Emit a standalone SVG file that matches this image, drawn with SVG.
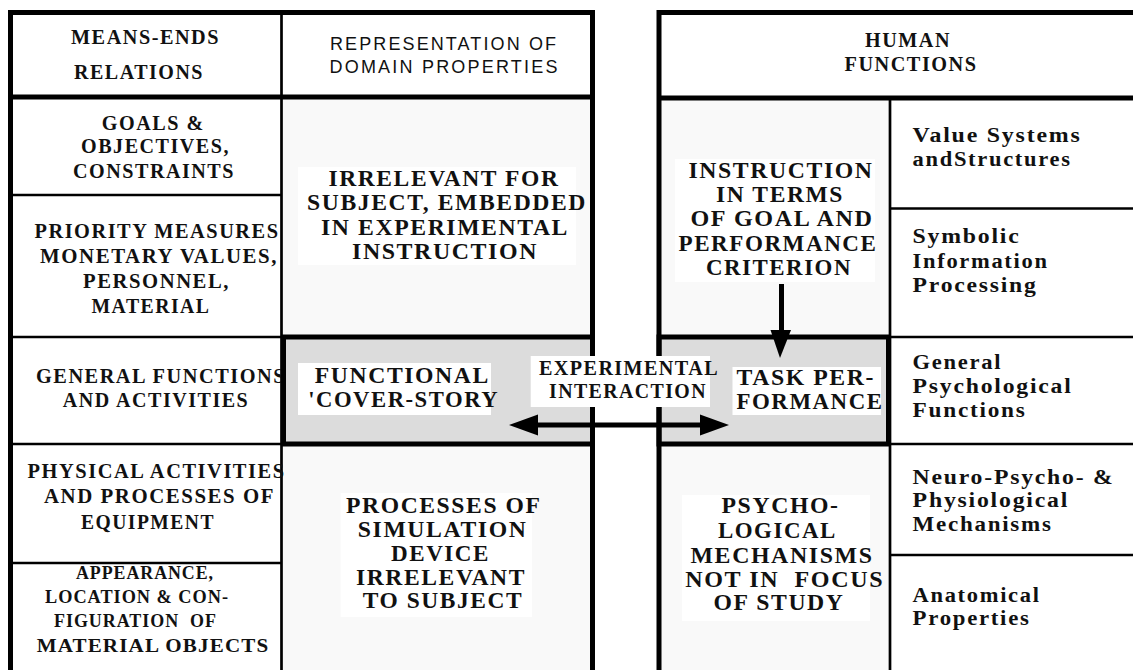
<svg xmlns="http://www.w3.org/2000/svg" width="1133" height="670" viewBox="0 0 1133 670">
<style>
.b{font-family:"Liberation Serif","Times New Roman",serif;font-weight:bold;fill:#111;letter-spacing:1.5px;}
.s18{font-size:18.5px;letter-spacing:1px;}
.s19{font-size:20px;}
.s20{font-size:21px;}
.s22{font-size:22.5px;}
.sans{font-family:"Liberation Sans",Arial,sans-serif;font-size:18px;fill:#111;}
.m{text-anchor:middle;}
.thick{stroke:#000;stroke-width:5;fill:none;}
.thin{stroke:#000;stroke-width:2.7;fill:none;}
.band{fill:#dcdcdc;stroke:#000;stroke-width:5;}
.light{fill:#f9f9f9;}
.lbl{fill:#fff;}
.arr{stroke:#000;stroke-width:5;}
</style>
<rect width="1133" height="670" fill="#fff"/>

<g id="left-frame">
  <rect class="light" x="283" y="99" width="307" height="571"/>
  <line class="thin" x1="281.5" y1="15" x2="281.5" y2="670"/>
  <line class="thin" x1="12" y1="195" x2="281" y2="195"/>
  <line class="thin" x1="12" y1="337" x2="281" y2="337"/>
  <line class="thin" x1="12" y1="444" x2="281" y2="444"/>
  <line class="thin" x1="12" y1="563" x2="281" y2="563"/>
</g>

<g id="right-frame">
  <rect class="light" x="661" y="100" width="228" height="570"/>
  <line class="thin" x1="890" y1="98" x2="890" y2="670"/>
  <line class="thin" x1="890" y1="208.5" x2="1133" y2="208.5"/>
  <line class="thin" x1="890" y1="337" x2="1133" y2="337"/>
  <line class="thin" x1="890" y1="444" x2="1133" y2="444"/>
  <line class="thin" x1="890" y1="555" x2="1133" y2="555"/>
</g>

<g id="means-ends-header">
  <text class="b s19 m" x="145.5" y="44" textLength="149" lengthAdjust="spacingAndGlyphs">MEANS-ENDS</text>
  <text class="b s19 m" x="139" y="79" textLength="130" lengthAdjust="spacingAndGlyphs">RELATIONS</text>
</g>
<g id="domain-header">
  <text class="sans m" x="443" y="50" textLength="226">REPRESENTATION OF</text>
  <text class="sans m" x="443.5" y="73" textLength="228">DOMAIN PROPERTIES</text>
</g>
<g id="goals">
  <text class="b s19 m" x="153.3" y="130" textLength="103" lengthAdjust="spacingAndGlyphs">GOALS &amp;</text>
  <text class="b s19 m" x="155.5" y="153" textLength="149" lengthAdjust="spacingAndGlyphs">OBJECTIVES,</text>
  <text class="b s19 m" x="154" y="178" textLength="162" lengthAdjust="spacingAndGlyphs">CONSTRAINTS</text>
</g>
<g id="priority">
  <text class="b s19 m" x="157" y="238" textLength="245" lengthAdjust="spacingAndGlyphs">PRIORITY MEASURES</text>
  <text class="b s19 m" x="159" y="263" textLength="238" lengthAdjust="spacingAndGlyphs">MONETARY VALUES,</text>
  <text class="b s19 m" x="156.5" y="288" textLength="147" lengthAdjust="spacingAndGlyphs">PERSONNEL,</text>
  <text class="b s19 m" x="151" y="313" textLength="119" lengthAdjust="spacingAndGlyphs">MATERIAL</text>
</g>
<g id="general-functions">
  <text class="b s19 m" x="161" y="383" textLength="250" lengthAdjust="spacingAndGlyphs">GENERAL FUNCTIONS</text>
  <text class="b s19 m" x="156" y="407" textLength="186.5" lengthAdjust="spacingAndGlyphs">AND ACTIVITIES</text>
</g>
<g id="physical">
  <text class="b s19 m" x="156.6" y="478" textLength="258" lengthAdjust="spacingAndGlyphs">PHYSICAL ACTIVITIES</text>
  <text class="b s19 m" x="159.5" y="503" textLength="231" lengthAdjust="spacingAndGlyphs">AND PROCESSES OF</text>
  <text class="b s19 m" x="148" y="529" textLength="134" lengthAdjust="spacingAndGlyphs">EQUIPMENT</text>
</g>
<g id="appearance">
  <text class="b s18 m" x="145" y="579" textLength="138" lengthAdjust="spacingAndGlyphs">APPEARANCE,</text>
  <text class="b s18 m" x="137" y="603" textLength="184" lengthAdjust="spacingAndGlyphs">LOCATION &amp; CON-</text>
  <text class="b s18 m" x="135.5" y="627" textLength="163" lengthAdjust="spacingAndGlyphs" xml:space="preserve">FIGURATION  OF</text>
  <text class="b s18 m" x="153" y="652" textLength="232.6" lengthAdjust="spacingAndGlyphs">MATERIAL OBJECTS</text>
</g>

<g id="irrelevant">
  <rect class="lbl" x="298" y="167" width="278" height="98"/>
  <text class="b s22 m" x="444" y="186" textLength="231" lengthAdjust="spacingAndGlyphs">IRRELEVANT FOR</text>
  <text class="b s22 m" x="447" y="210" textLength="280" lengthAdjust="spacingAndGlyphs">SUBJECT, EMBEDDED</text>
  <text class="b s22 m" x="445" y="235" textLength="248" lengthAdjust="spacingAndGlyphs">IN EXPERIMENTAL</text>
  <text class="b s22 m" x="445" y="259" textLength="186" lengthAdjust="spacingAndGlyphs">INSTRUCTION</text>
</g>

<g id="cover-story">
  <rect class="band" x="283.5" y="337" width="309" height="107"/>
  <rect class="lbl" x="298" y="363" width="193" height="52"/>
  <text class="b s22 m" x="402.3" y="383" textLength="175" lengthAdjust="spacingAndGlyphs">FUNCTIONAL</text>
  <text class="b s22 m" x="403.7" y="407" textLength="191" lengthAdjust="spacingAndGlyphs">'COVER-STORY</text>
</g>

<g id="simulation">
  <rect class="lbl" x="340.6" y="493" width="191.4" height="124"/>
  <text class="b s22 m" x="443.8" y="513" textLength="195.5" lengthAdjust="spacingAndGlyphs">PROCESSES OF</text>
  <text class="b s22 m" x="442.6" y="537" textLength="169.6" lengthAdjust="spacingAndGlyphs">SIMULATION</text>
  <text class="b s22 m" x="440.5" y="561" textLength="99" lengthAdjust="spacingAndGlyphs">DEVICE</text>
  <text class="b s22 m" x="441" y="585" textLength="170" lengthAdjust="spacingAndGlyphs">IRRELEVANT</text>
  <text class="b s22 m" x="443" y="608" textLength="160.7" lengthAdjust="spacingAndGlyphs">TO SUBJECT</text>
</g>

<g id="left-border">
  <line class="thick" x1="8" y1="12.5" x2="595" y2="12.5"/>
  <line class="thick" x1="10.5" y1="10" x2="10.5" y2="670"/>
  <line class="thick" x1="592.5" y1="10" x2="592.5" y2="670"/>
  <line class="thick" x1="10" y1="97" x2="593" y2="97"/>
</g>

<g id="human-functions-header">
  <text class="b s19 m" x="908" y="47" textLength="86" lengthAdjust="spacingAndGlyphs">HUMAN</text>
  <text class="b s19 m" x="911" y="71" textLength="133" lengthAdjust="spacingAndGlyphs">FUNCTIONS</text>
</g>

<g id="instruction">
  <rect class="lbl" x="675" y="159" width="200" height="123"/>
  <text class="b s22 m" x="781" y="178" textLength="185" lengthAdjust="spacingAndGlyphs">INSTRUCTION</text>
  <text class="b s22 m" x="780" y="202" textLength="128" lengthAdjust="spacingAndGlyphs">IN TERMS</text>
  <text class="b s22 m" x="782" y="226" textLength="183" lengthAdjust="spacingAndGlyphs">OF GOAL AND</text>
  <text class="b s22 m" x="778" y="251" textLength="199" lengthAdjust="spacingAndGlyphs">PERFORMANCE</text>
  <text class="b s22 m" x="779" y="275" textLength="146" lengthAdjust="spacingAndGlyphs">CRITERION</text>
</g>

<g id="task-performance">
  <rect class="band" x="659" y="337" width="229.5" height="107"/>
  <rect class="lbl" x="732.5" y="367" width="148.5" height="48"/>
  <text class="b s22" x="736.5" y="385" textLength="138.5" lengthAdjust="spacingAndGlyphs">TASK PER-</text>
  <text class="b s22" x="736.5" y="409" textLength="147" lengthAdjust="spacingAndGlyphs">FORMANCE</text>
</g>

<g id="psycho-mechanisms">
  <rect class="lbl" x="682" y="495" width="188" height="126"/>
  <text class="b s22 m" x="780.5" y="513" textLength="118" lengthAdjust="spacingAndGlyphs">PSYCHO-</text>
  <text class="b s22 m" x="777.4" y="538" textLength="119" lengthAdjust="spacingAndGlyphs">LOGICAL</text>
  <text class="b s22 m" x="782" y="563" textLength="183" lengthAdjust="spacingAndGlyphs">MECHANISMS</text>
  <text class="b s22 m" x="784.7" y="587" textLength="199" lengthAdjust="spacingAndGlyphs" xml:space="preserve">NOT IN  FOCUS</text>
  <text class="b s22 m" x="779" y="610" textLength="131" lengthAdjust="spacingAndGlyphs">OF STUDY</text>
</g>

<g id="human-levels">
  <text class="b s19" x="912.6" y="142" textLength="169" lengthAdjust="spacingAndGlyphs">Value Systems</text>
  <text class="b s19" x="912.6" y="166" textLength="159" lengthAdjust="spacingAndGlyphs">andStructures</text>
  <text class="b s19" x="912.6" y="243" textLength="108" lengthAdjust="spacingAndGlyphs">Symbolic</text>
  <text class="b s19" x="912.6" y="268" textLength="136" lengthAdjust="spacingAndGlyphs">Information</text>
  <text class="b s19" x="912.6" y="292" textLength="125" lengthAdjust="spacingAndGlyphs">Processing</text>
  <text class="b s19" x="912.6" y="369" textLength="89.5" lengthAdjust="spacingAndGlyphs">General</text>
  <text class="b s19" x="912.6" y="393" textLength="160" lengthAdjust="spacingAndGlyphs">Psychological</text>
  <text class="b s19" x="912.6" y="417" textLength="114" lengthAdjust="spacingAndGlyphs">Functions</text>
  <text class="b s19" x="912.6" y="484" textLength="202" lengthAdjust="spacingAndGlyphs" xml:space="preserve">Neuro-Psycho- &amp;</text>
  <text class="b s19" x="912.6" y="507" textLength="156.5" lengthAdjust="spacingAndGlyphs">Physiological</text>
  <text class="b s19" x="912.6" y="531" textLength="140" lengthAdjust="spacingAndGlyphs">Mechanisms</text>
  <text class="b s19" x="912.6" y="602" textLength="128" lengthAdjust="spacingAndGlyphs">Anatomical</text>
  <text class="b s19" x="912.6" y="625" textLength="118" lengthAdjust="spacingAndGlyphs">Properties</text>
</g>

<g id="right-border">
  <line class="thick" x1="657" y1="12.5" x2="1133" y2="12.5"/>
  <line class="thick" x1="659" y1="10" x2="659" y2="670"/>
  <line class="thick" x1="659" y1="98" x2="1133" y2="98"/>
</g>

<g id="experimental-interaction">
  <rect class="lbl" x="530.7" y="356" width="179.3" height="51"/>
  <text class="b s20 m" x="629" y="375" textLength="180" lengthAdjust="spacingAndGlyphs">EXPERIMENTAL</text>
  <text class="b s20 m" x="628" y="398" textLength="158" lengthAdjust="spacingAndGlyphs">INTERACTION</text>
</g>

<g id="connectors">
  <line class="arr" x1="534" y1="425" x2="704" y2="425"/>
  <polygon points="509,425 538,414.5 538,435.5" fill="#000"/>
  <polygon points="729,425 700,414.5 700,435.5" fill="#000"/>
  <line class="arr" x1="781.5" y1="284" x2="781.5" y2="332" stroke-width="4.7"/>
  <polygon points="770.5,330 791,330 780,358" fill="#000"/>
</g>
</svg>
